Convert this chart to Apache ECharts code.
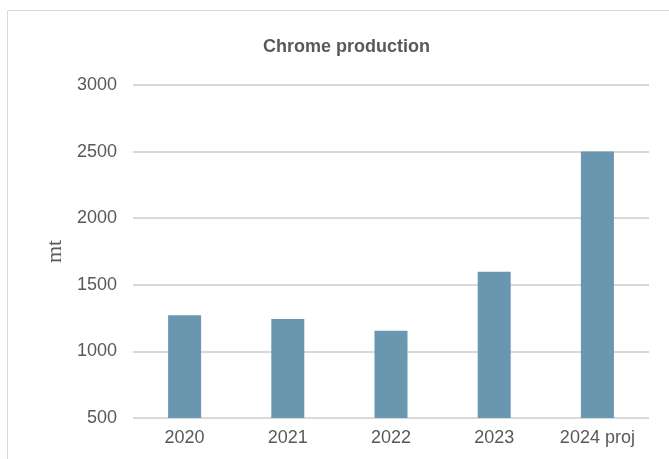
<!DOCTYPE html>
<html>
<head>
<meta charset="utf-8">
<script src="https://cdn.jsdelivr.net/npm/echarts@6/dist/echarts.min.js"></script>
<style>
html, body { margin: 0; padding: 0; background: #fff; }
#main { width: 669px; height: 459px; }
</style>
</head>
<body>
<div id="main"></div>
<script>
// data
var categories = ['2020', '2021', '2022', '2023', '2024 proj'];
var production = [1272, 1244, 1155, 1598, 2500];
var yTicks = [500, 1000, 1500, 2000, 2500, 3000];

var myChart = echarts.init(document.getElementById('main'));

var option = {
    backgroundColor: '#fff',
    textStyle: { fontFamily: 'Liberation Sans, Arial, sans-serif' },
    graphic: [{
        type: 'rect',
        shape: { x: 7.5, y: 10.5, width: 700, height: 500 },
        style: { fill: 'none', stroke: '#d9d9d9', lineWidth: 1 },
        silent: true
    }],
    title: {
        text: 'Chrome production',
        left: 258,
        top: 33,
        textStyle: { fontSize: 18, fontWeight: 'bold', color: '#595959' }
    },
    grid: { left: 133, right: 20, top: 85, bottom: 41 },
    xAxis: {
        type: 'category',
        data: categories,
        axisLine: { show: false },
        axisTick: { show: false },
        axisLabel: { fontSize: 18, color: '#595959', margin: 11 }
    },
    yAxis: {
        type: 'value',
        min: yTicks[0],
        max: yTicks[yTicks.length - 1],
        interval: 500,
        name: 'mt',
        nameLocation: 'middle',
        nameGap: 66,
        nameTextStyle: { fontFamily: 'Liberation Serif, serif', fontSize: 22, color: '#595959' },
        axisLine: { show: false },
        axisTick: { show: false },
        axisLabel: {
            fontSize: 18, color: '#595959', margin: 16,
            formatter: function (v) { return String(v); }
        },
        splitLine: { lineStyle: { color: '#d9d9d9', width: 2 } }
    },
    series: [{
        type: 'bar',
        data: production,
        barWidth: 33,
        itemStyle: { color: '#6997b0' },
        silent: true
    }]
};

myChart.setOption(option);
</script>
</body>
</html>
